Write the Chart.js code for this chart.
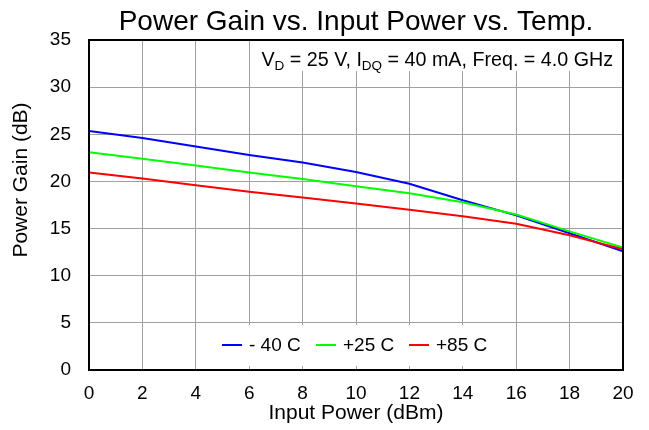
<!DOCTYPE html>
<html>
<head>
<meta charset="utf-8">
<script src="https://cdn.jsdelivr.net/npm/chart.js@4"></script>
<style>
  body { margin: 0; background: #fff; }
  #wrap { width: 649px; height: 430px; }
</style>
</head>
<body>
<div id="wrap"><canvas id="Chart" width="649" height="430"></canvas></div>
<script>
// values
const inputPower = [0, 2, 4, 6, 8, 10, 12, 14, 16, 18, 20];
const gainMinus40 = [25.35, 24.6, 23.7, 22.8, 22.0, 21.0, 19.75, 18.0, 16.4, 14.5, 12.6];
const gain25 = [23.1, 22.4, 21.7, 20.95, 20.25, 19.5, 18.75, 17.8, 16.5, 14.7, 13.0];
const gain85 = [20.95, 20.3, 19.6, 18.9, 18.3, 17.65, 17.0, 16.3, 15.5, 14.3, 12.8];
const seriesNames = ['- 40 C', '+25 C', '+85 C'];
const seriesColors = ['#0000ff', '#00ff00', '#ff0000'];

const FONT = '"Liberation Sans", Arial, sans-serif';

function toPoints(ys)
{
    return inputPower.map((x, i) => ({ x: x, y: ys[i] }));
}

// white boxes + condition text + legend, drawn over the grid
const overlayPlugin = {
    id: 'overlay',
    beforeDatasetsDraw(chart)
    {
        const ctx = chart.ctx;
        const a = chart.chartArea;
        ctx.save();
        ctx.fillStyle = '#fff';
        ctx.fillRect(257, a.top, a.right - 257, 31);
        ctx.fillRect(210, a.bottom - 45, 295, 41);

        // condition text
        ctx.fillStyle = '#000';
        ctx.textBaseline = 'alphabetic';
        const parts = [
            ['V', 19.7, 0], ['D', 13.5, 4], [' = 25 V, I', 19.7, 0], ['DQ', 13.5, 4],
            [' = 40 mA, Freq. = 4.0 GHz', 19.7, 0]
        ];
        let w = 0;
        parts.forEach(p => { ctx.font = p[1] + 'px ' + FONT; w += ctx.measureText(p[0]).width; });
        let x = a.right - 10 - w;
        const base = a.top + 26;
        parts.forEach(p =>
        {
            ctx.font = p[1] + 'px ' + FONT;
            ctx.fillText(p[0], x, base + p[2]);
            x += ctx.measureText(p[0]).width;
        });

        // legend
        ctx.font = '19px ' + FONT;
        const ly = a.bottom - 25;
        const starts = [222, 316, 409];
        seriesNames.forEach((name, i) =>
        {
            ctx.strokeStyle = seriesColors[i];
            ctx.lineWidth = 2;
            ctx.beginPath();
            ctx.moveTo(starts[i], ly);
            ctx.lineTo(starts[i] + 20, ly);
            ctx.stroke();
            ctx.fillStyle = '#000';
            ctx.textBaseline = 'middle';
            ctx.fillText(name, starts[i] + 27, ly + 1);
        });
        ctx.restore();
    },
    afterDraw(chart)
    {
        const ctx = chart.ctx;
        const a = chart.chartArea;
        ctx.save();
        ctx.strokeStyle = '#000';
        ctx.lineWidth = 2;
        ctx.strokeRect(a.left, a.top, a.right - a.left, a.bottom - a.top);

        // y axis title (sits above the plot's middle in the reference)
        ctx.translate(21, 180);
        ctx.rotate(-Math.PI / 2);
        ctx.font = '21px ' + FONT;
        ctx.fillStyle = '#000';
        ctx.textAlign = 'center';
        ctx.textBaseline = 'middle';
        ctx.fillText('Power Gain (dB)', 0, 0);
        ctx.restore();
    }
};

const data = {
    datasets: [
        { label: seriesNames[0], data: toPoints(gainMinus40), borderColor: seriesColors[0], order: 3 },
        { label: seriesNames[1], data: toPoints(gain25), borderColor: seriesColors[1], order: 2 },
        { label: seriesNames[2], data: toPoints(gain85), borderColor: seriesColors[2], order: 1 }
    ]
};

new Chart(document.getElementById('Chart'), {
    type: 'line',
    data: data,
    plugins: [overlayPlugin],
    options: {
        responsive: false,
        animation: false,
        layout: { padding: { left: 0, right: 26, top: 0, bottom: 0 } },
        elements: {
            line: { borderWidth: 2, tension: 0, fill: false },
            point: { radius: 0 }
        },
        scales: {
            x: {
                type: 'linear',
                min: 0,
                max: 20,
                afterFit: s => { s.height = 60; },
                ticks: { stepSize: 2, color: '#000', font: { family: FONT, size: 19 }, padding: 12 },
                grid: { color: '#a0a0a0', lineWidth: 1, drawTicks: false },
                border: { display: false },
                title: { display: true, text: 'Input Power (dBm)', color: '#000', font: { family: FONT, size: 21 }, padding: { top: 0, bottom: 4 } }
            },
            y: {
                min: 0,
                max: 35,
                afterFit: s => { s.width = 89; },
                ticks: { stepSize: 5, color: '#000', font: { family: FONT, size: 19 }, padding: 18 },
                grid: { color: '#a0a0a0', lineWidth: 1, drawTicks: false },
                border: { display: false },
                title: { display: false }
            }
        },
        plugins: {
            legend: { display: false },
            tooltip: { enabled: false },
            title: {
                display: true,
                text: 'Power Gain vs. Input Power vs. Temp.',
                color: '#000',
                fullSize: false,
                font: { family: FONT, size: 28, weight: 'normal', lineHeight: 1.2 },
                padding: { top: 5, bottom: 1.4 }
            }
        }
    }
});
</script>
</body>
</html>
